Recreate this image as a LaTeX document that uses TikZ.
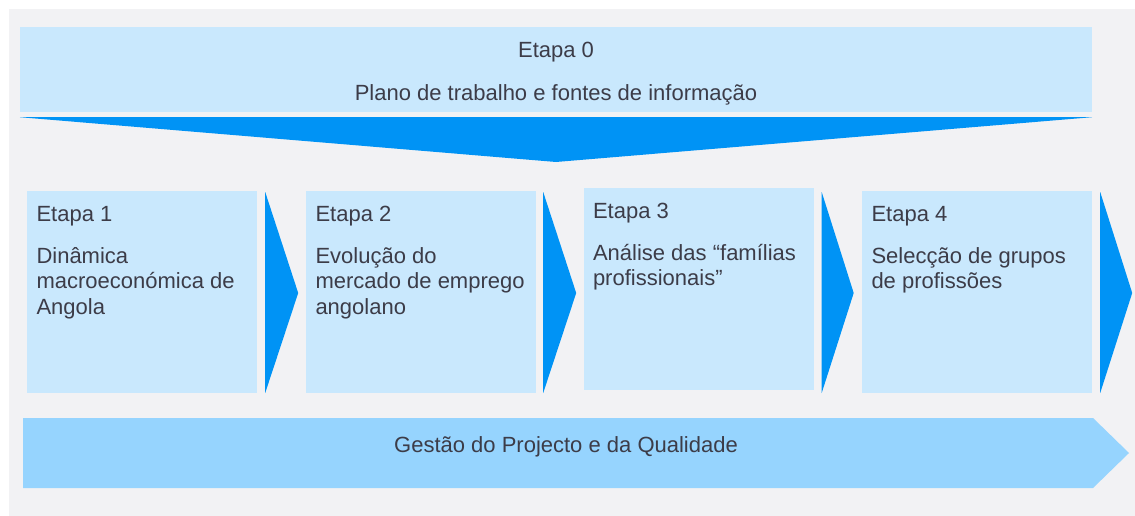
\documentclass[tikz,border=0pt]{standalone}
\usepackage{fontspec}
\setmainfont{Liberation Sans}
\usepackage{tikz}
\usetikzlibrary{positioning}

\definecolor{panelgray}{HTML}{F2F2F4}
\definecolor{boxblue}{HTML}{C9E8FD}
\definecolor{arrowblue}{HTML}{0093F5}
\definecolor{barblue}{HTML}{96D4FE}
\definecolor{textgray}{HTML}{3C3C48}

\begin{document}
\begin{tikzpicture}[x=1pt, y=-1pt,
    stagebox/.style={fill=boxblue, rectangle, inner sep=0pt, minimum width=230pt, minimum height=202pt},
    stagetext/.style={anchor=north west, align=left, inner sep=0pt, text=textgray, font=\fontsize{22}{25.5}\selectfont}]
    \useasboundingbox (0,0) rectangle (1135,516);
    \fill[panelgray] (9,9) rectangle (1135,516);

    % stage 0 and its funnel
    \node[fill=boxblue, rectangle, inner sep=0pt, minimum width=1072pt, minimum height=85pt] (stage0) at (556,69.5) {};
    \node[stagetext, anchor=north, align=center] (text0) at (556,41.5) {Etapa 0\\[17.5pt]Plano de trabalho e fontes de informação};
    \fill[arrowblue] ([yshift=-5pt]stage0.south west) -- ([yshift=-5pt]stage0.south east) -- (556,162) -- cycle;

    % stages 1 to 4
    \node[stagebox] (stage1) at (142,292) {};
    \node[stagebox] (stage2) at (421,292) {};
    \node[stagebox] (stage3) at (698.5,289) {};
    \node[stagebox] (stage4) at (977,292) {};

    \node[stagetext] (text1) at ([xshift=9.5pt, yshift=-15pt]stage1.north west) {Etapa 1\\[16.5pt]Dinâmica\\macroeconómica de\\Angola};
    \node[stagetext] (text2) at ([xshift=9.5pt, yshift=-15pt]stage2.north west) {Etapa 2\\[16.5pt]Evolução do\\mercado de emprego\\angolano};
    \node[stagetext] (text3) at ([xshift=9.5pt, yshift=-15pt]stage3.north west) {Etapa 3\\[16.5pt]Análise das “famílias\\profissionais”};
    \node[stagetext] (text4) at ([xshift=9.5pt, yshift=-15pt]stage4.north west) {Etapa 4\\[16.5pt]Selecção de grupos\\de profissões};

    \coordinate (chevtop) at (0,192);
    \coordinate (chevtip) at (0,293);
    \coordinate (chevbot) at (0,393);
    \fill[arrowblue] ([xshift=8pt]stage1.east |- chevtop) -- ([xshift=41pt]stage1.east |- chevtip) -- ([xshift=8pt]stage1.east |- chevbot) -- cycle;
    \fill[arrowblue] ([xshift=7pt]stage2.east |- chevtop) -- ([xshift=40pt]stage2.east |- chevtip) -- ([xshift=7pt]stage2.east |- chevbot) -- cycle;
    \fill[arrowblue] ([xshift=8pt]stage3.east |- chevtop) -- ([xshift=40pt]stage3.east |- chevtip) -- ([xshift=8pt]stage3.east |- chevbot) -- cycle;
    \fill[arrowblue] ([xshift=8pt]stage4.east |- chevtop) -- ([xshift=40pt]stage4.east |- chevtip) -- ([xshift=8pt]stage4.east |- chevbot) -- cycle;

    % project management bar
    \fill[barblue] (23,418) -- (1093,418) -- (1129,453) -- (1093,488) -- (23,488) -- cycle;
    \node[stagetext, anchor=base] (quality) at (566,452) {Gestão do Projecto e da Qualidade};
\end{tikzpicture}
\end{document}
